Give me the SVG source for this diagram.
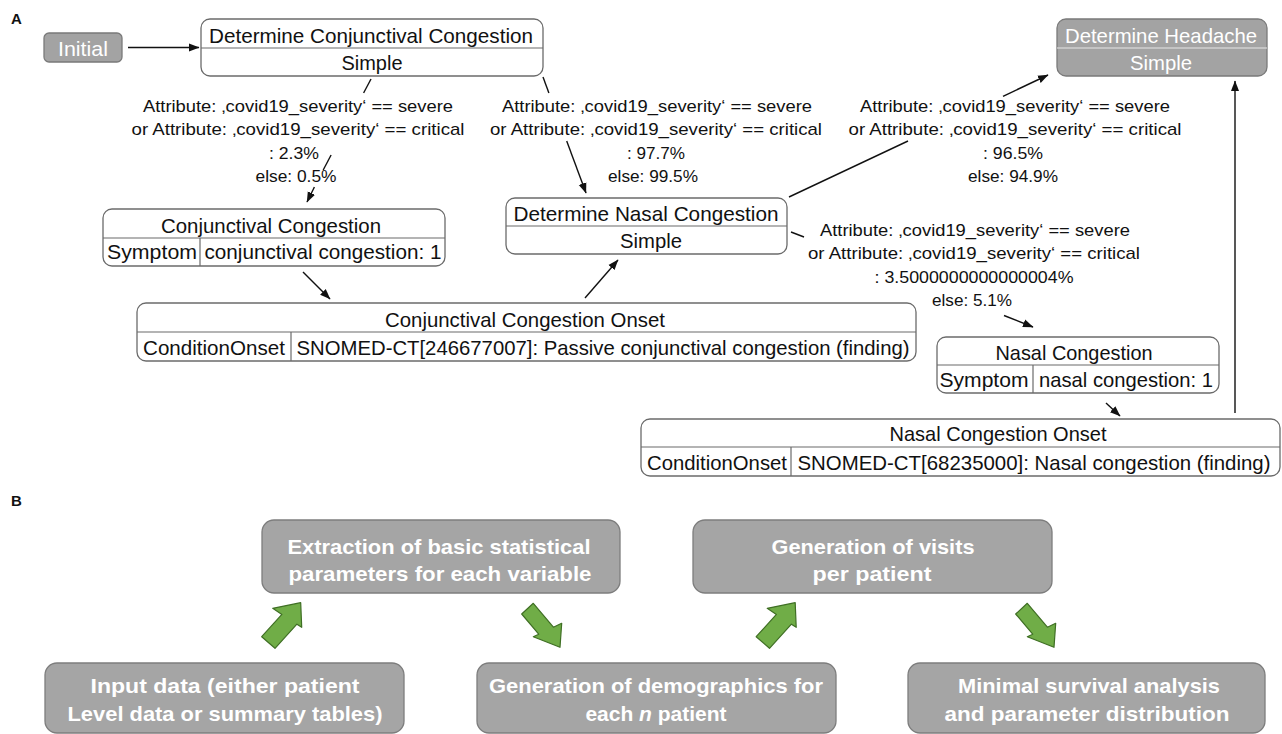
<svg xmlns="http://www.w3.org/2000/svg" width="1282" height="734" viewBox="0 0 1282 734">
<style>
text{font-family:"Liberation Sans",Arial,sans-serif;fill:#111}
.pl{font-weight:bold;font-size:15px}
.nd{fill:#fff;stroke:#6b6b6b;stroke-width:1.3}
.gn{fill:#a3a3a3;stroke:#7a7a7a;stroke-width:1.3}
.dv{stroke:#6b6b6b;stroke-width:1.2}
.dw{stroke:#e8e8e8;stroke-width:1.2}
.t{font-size:21px;text-anchor:middle}
.tw{font-size:21px;text-anchor:middle;fill:#fff}
.lb{font-size:17px;text-anchor:middle}
.cn{stroke:#111;stroke-width:1.4;fill:none}
.bb{fill:#a5a5a5;stroke:#7d7d7d;stroke-width:1.3}
.bt{font-size:21px;font-weight:bold;text-anchor:middle;fill:#fff}
.ga{fill:#70ad47;stroke:#3f6f24;stroke-width:1.2;stroke-linejoin:round}
</style>
<defs>
<marker id="ah" markerWidth="11" markerHeight="9" refX="10" refY="4.5" orient="auto" markerUnits="userSpaceOnUse">
<path d="M0,0.5 L10.5,4.5 L0,8.5 z" fill="#111"/>
</marker>
</defs>

<text class="pl" x="11" y="24">A</text>
<text class="pl" x="11" y="506">B</text>

<g id="initial">
<rect class="gn" x="44" y="33" width="78" height="29" rx="5"/>
<text class="tw" x="83" y="56" textLength="50" lengthAdjust="spacingAndGlyphs">Initial</text>
</g>

<g id="det-conj">
<rect class="nd" x="201" y="19" width="342" height="57" rx="9"/>
<line class="dv" x1="201" y1="48" x2="543" y2="48"/>
<text class="t" x="371" y="43" textLength="324" lengthAdjust="spacingAndGlyphs">Determine Conjunctival Congestion</text>
<text class="t" x="372" y="70" textLength="61" lengthAdjust="spacingAndGlyphs">Simple</text>
</g>

<g id="det-headache">
<rect class="gn" x="1057" y="19" width="210" height="57" rx="9"/>
<line class="dw" x1="1057" y1="48" x2="1267" y2="48"/>
<text class="tw" x="1161" y="43" textLength="192" lengthAdjust="spacingAndGlyphs">Determine Headache</text>
<text class="tw" x="1161" y="70" textLength="62" lengthAdjust="spacingAndGlyphs">Simple</text>
</g>

<g id="conj-cong">
<rect class="nd" x="103" y="209" width="342" height="57" rx="9"/>
<line class="dv" x1="103" y1="238" x2="445" y2="238"/>
<line class="dv" x1="200" y1="238" x2="200" y2="266"/>
<text class="t" x="271" y="233" textLength="220" lengthAdjust="spacingAndGlyphs">Conjunctival Congestion</text>
<text class="t" x="152" y="259" textLength="90" lengthAdjust="spacingAndGlyphs">Symptom</text>
<text class="t" x="323" y="259" textLength="237" lengthAdjust="spacingAndGlyphs">conjunctival congestion: 1</text>
</g>

<g id="det-nasal">
<rect class="nd" x="506" y="198" width="281" height="56" rx="9"/>
<line class="dv" x1="506" y1="226" x2="787" y2="226"/>
<text class="t" x="646" y="221" textLength="265" lengthAdjust="spacingAndGlyphs">Determine Nasal Congestion</text>
<text class="t" x="651" y="248" textLength="62" lengthAdjust="spacingAndGlyphs">Simple</text>
</g>

<g id="conj-onset">
<rect class="nd" x="137" y="303" width="779" height="58" rx="9"/>
<line class="dv" x1="137" y1="332" x2="916" y2="332"/>
<line class="dv" x1="291" y1="332" x2="291" y2="361"/>
<text class="t" x="525" y="327" textLength="280" lengthAdjust="spacingAndGlyphs">Conjunctival Congestion Onset</text>
<text class="t" x="214" y="355" textLength="142" lengthAdjust="spacingAndGlyphs">ConditionOnset</text>
<text class="t" x="603" y="355" textLength="613" lengthAdjust="spacingAndGlyphs">SNOMED-CT[246677007]: Passive conjunctival congestion (finding)</text>
</g>

<g id="nasal-cong">
<rect class="nd" x="937" y="337" width="282" height="56" rx="9"/>
<line class="dv" x1="937" y1="365" x2="1219" y2="365"/>
<line class="dv" x1="1033" y1="365" x2="1033" y2="393"/>
<text class="t" x="1074" y="360" textLength="157" lengthAdjust="spacingAndGlyphs">Nasal Congestion</text>
<text class="t" x="984" y="387" textLength="89" lengthAdjust="spacingAndGlyphs">Symptom</text>
<text class="t" x="1126" y="387" textLength="174" lengthAdjust="spacingAndGlyphs">nasal congestion: 1</text>
</g>

<g id="nasal-onset">
<rect class="nd" x="641" y="419" width="639" height="57" rx="9"/>
<line class="dv" x1="641" y1="447" x2="1280" y2="447"/>
<line class="dv" x1="791" y1="447" x2="791" y2="476"/>
<text class="t" x="998" y="441" textLength="217" lengthAdjust="spacingAndGlyphs">Nasal Congestion Onset</text>
<text class="t" x="717" y="470" textLength="140" lengthAdjust="spacingAndGlyphs">ConditionOnset</text>
<text class="t" x="1034" y="470" textLength="473" lengthAdjust="spacingAndGlyphs">SNOMED-CT[68235000]: Nasal congestion (finding)</text>
</g>

<g id="connectors">
<line class="cn" x1="128" y1="47.5" x2="199" y2="47.5" marker-end="url(#ah)"/>
<line class="cn" x1="371" y1="79" x2="363.6" y2="93"/>
<line class="cn" x1="331.1" y1="155" x2="323.2" y2="170"/>
<line class="cn" x1="314.4" y1="187" x2="307" y2="202" marker-end="url(#ah)"/>
<line class="cn" x1="543" y1="77" x2="548.9" y2="93"/>
<line class="cn" x1="566.7" y1="141" x2="586" y2="193" marker-end="url(#ah)"/>
<line class="cn" x1="303" y1="272" x2="330" y2="299" marker-end="url(#ah)"/>
<line class="cn" x1="585" y1="298" x2="618" y2="260" marker-end="url(#ah)"/>
<line class="cn" x1="789" y1="197" x2="908" y2="141"/>
<line class="cn" x1="1003" y1="96.3" x2="1048" y2="75" marker-end="url(#ah)"/>
<line class="cn" x1="791" y1="232" x2="804" y2="237"/>
<line class="cn" x1="1004" y1="315.5" x2="1033" y2="327" marker-end="url(#ah)"/>
<line class="cn" x1="1106" y1="403" x2="1120" y2="416" marker-end="url(#ah)"/>
<line class="cn" x1="1235" y1="413" x2="1235" y2="81" marker-end="url(#ah)"/>

<g id="label-conj">
<text class="lb" x="298" y="111.5" textLength="310" lengthAdjust="spacingAndGlyphs">Attribute: ‚covid19_severity‘ == severe</text>
<text class="lb" x="298" y="135" textLength="333" lengthAdjust="spacingAndGlyphs">or Attribute: ‚covid19_severity‘ == critical</text>
<text class="lb" x="294" y="158.5" textLength="50" lengthAdjust="spacingAndGlyphs">: 2.3%</text>
<text class="lb" x="296" y="182" textLength="81" lengthAdjust="spacingAndGlyphs">else: 0.5%</text>
</g>
<g id="label-dnc">
<text class="lb" x="657" y="111.5" textLength="310" lengthAdjust="spacingAndGlyphs">Attribute: ‚covid19_severity‘ == severe</text>
<text class="lb" x="656" y="135" textLength="332" lengthAdjust="spacingAndGlyphs">or Attribute: ‚covid19_severity‘ == critical</text>
<text class="lb" x="656" y="158.5" textLength="58" lengthAdjust="spacingAndGlyphs">: 97.7%</text>
<text class="lb" x="653" y="182" textLength="90" lengthAdjust="spacingAndGlyphs">else: 99.5%</text>
</g>
<g id="label-headache">
<text class="lb" x="1015" y="111.5" textLength="310" lengthAdjust="spacingAndGlyphs">Attribute: ‚covid19_severity‘ == severe</text>
<text class="lb" x="1015" y="135" textLength="333" lengthAdjust="spacingAndGlyphs">or Attribute: ‚covid19_severity‘ == critical</text>
<text class="lb" x="1013" y="158.5" textLength="60" lengthAdjust="spacingAndGlyphs">: 96.5%</text>
<text class="lb" x="1013" y="182" textLength="90" lengthAdjust="spacingAndGlyphs">else: 94.9%</text>
</g>
<g id="label-nasal">
<text class="lb" x="975" y="235.5" textLength="310" lengthAdjust="spacingAndGlyphs">Attribute: ‚covid19_severity‘ == severe</text>
<text class="lb" x="974" y="259" textLength="332" lengthAdjust="spacingAndGlyphs">or Attribute: ‚covid19_severity‘ == critical</text>
<text class="lb" x="974" y="282.5" textLength="199" lengthAdjust="spacingAndGlyphs">: 3.5000000000000004%</text>
<text class="lb" x="972" y="306" textLength="80" lengthAdjust="spacingAndGlyphs">else: 5.1%</text>
</g>
</g>

<g id="b-extraction">
<rect class="bb" x="262" y="520" width="358" height="73" rx="12"/>
<text class="bt" x="439" y="553.5" textLength="303" lengthAdjust="spacingAndGlyphs">Extraction of basic statistical</text>
<text class="bt" x="440" y="580.5" textLength="303" lengthAdjust="spacingAndGlyphs">parameters for each variable</text>
</g>
<g id="b-visits">
<rect class="bb" x="693" y="520" width="359" height="73" rx="12"/>
<text class="bt" x="873" y="553.5" textLength="203" lengthAdjust="spacingAndGlyphs">Generation of visits</text>
<text class="bt" x="872" y="580.5" textLength="119" lengthAdjust="spacingAndGlyphs">per patient</text>
</g>
<g id="b-input">
<rect class="bb" x="45" y="663" width="359" height="70" rx="12"/>
<text class="bt" x="225" y="692.5" textLength="269" lengthAdjust="spacingAndGlyphs">Input data (either patient</text>
<text class="bt" x="225" y="720.5" textLength="315" lengthAdjust="spacingAndGlyphs">Level data or summary tables)</text>
</g>
<g id="b-demographics">
<rect class="bb" x="477" y="663" width="359" height="70" rx="12"/>
<text class="bt" x="656" y="692.5" textLength="334" lengthAdjust="spacingAndGlyphs">Generation of demographics for</text>
<text class="bt" x="656" y="720.5">each <tspan font-style="italic">n</tspan> patient</text>
</g>
<g id="b-survival">
<rect class="bb" x="908" y="663" width="357" height="70" rx="12"/>
<text class="bt" x="1089" y="692.5" textLength="262" lengthAdjust="spacingAndGlyphs">Minimal survival analysis</text>
<text class="bt" x="1087" y="720.5" textLength="285" lengthAdjust="spacingAndGlyphs">and parameter distribution</text>
</g>

<g id="b-arrows">
<polygon class="ga" points="300.7,602.7 301.7,627.3 296.9,624.2 275,648.3 261.7,636.7 281.9,614.4 272.7,608.3"/>
<polygon class="ga" points="521.7,614 533.3,603.3 553.4,627.2 561.7,623.3 560,647.3 533.3,636.7 538.7,634.2"/>
<polygon class="ga" transform="translate(494.5,0)" points="300.7,602.7 301.7,627.3 296.9,624.2 275,648.3 261.7,636.7 281.9,614.4 272.7,608.3"/>
<polygon class="ga" transform="translate(494,0)" points="521.7,614 533.3,603.3 553.4,627.2 561.7,623.3 560,647.3 533.3,636.7 538.7,634.2"/>
</g>
</svg>
